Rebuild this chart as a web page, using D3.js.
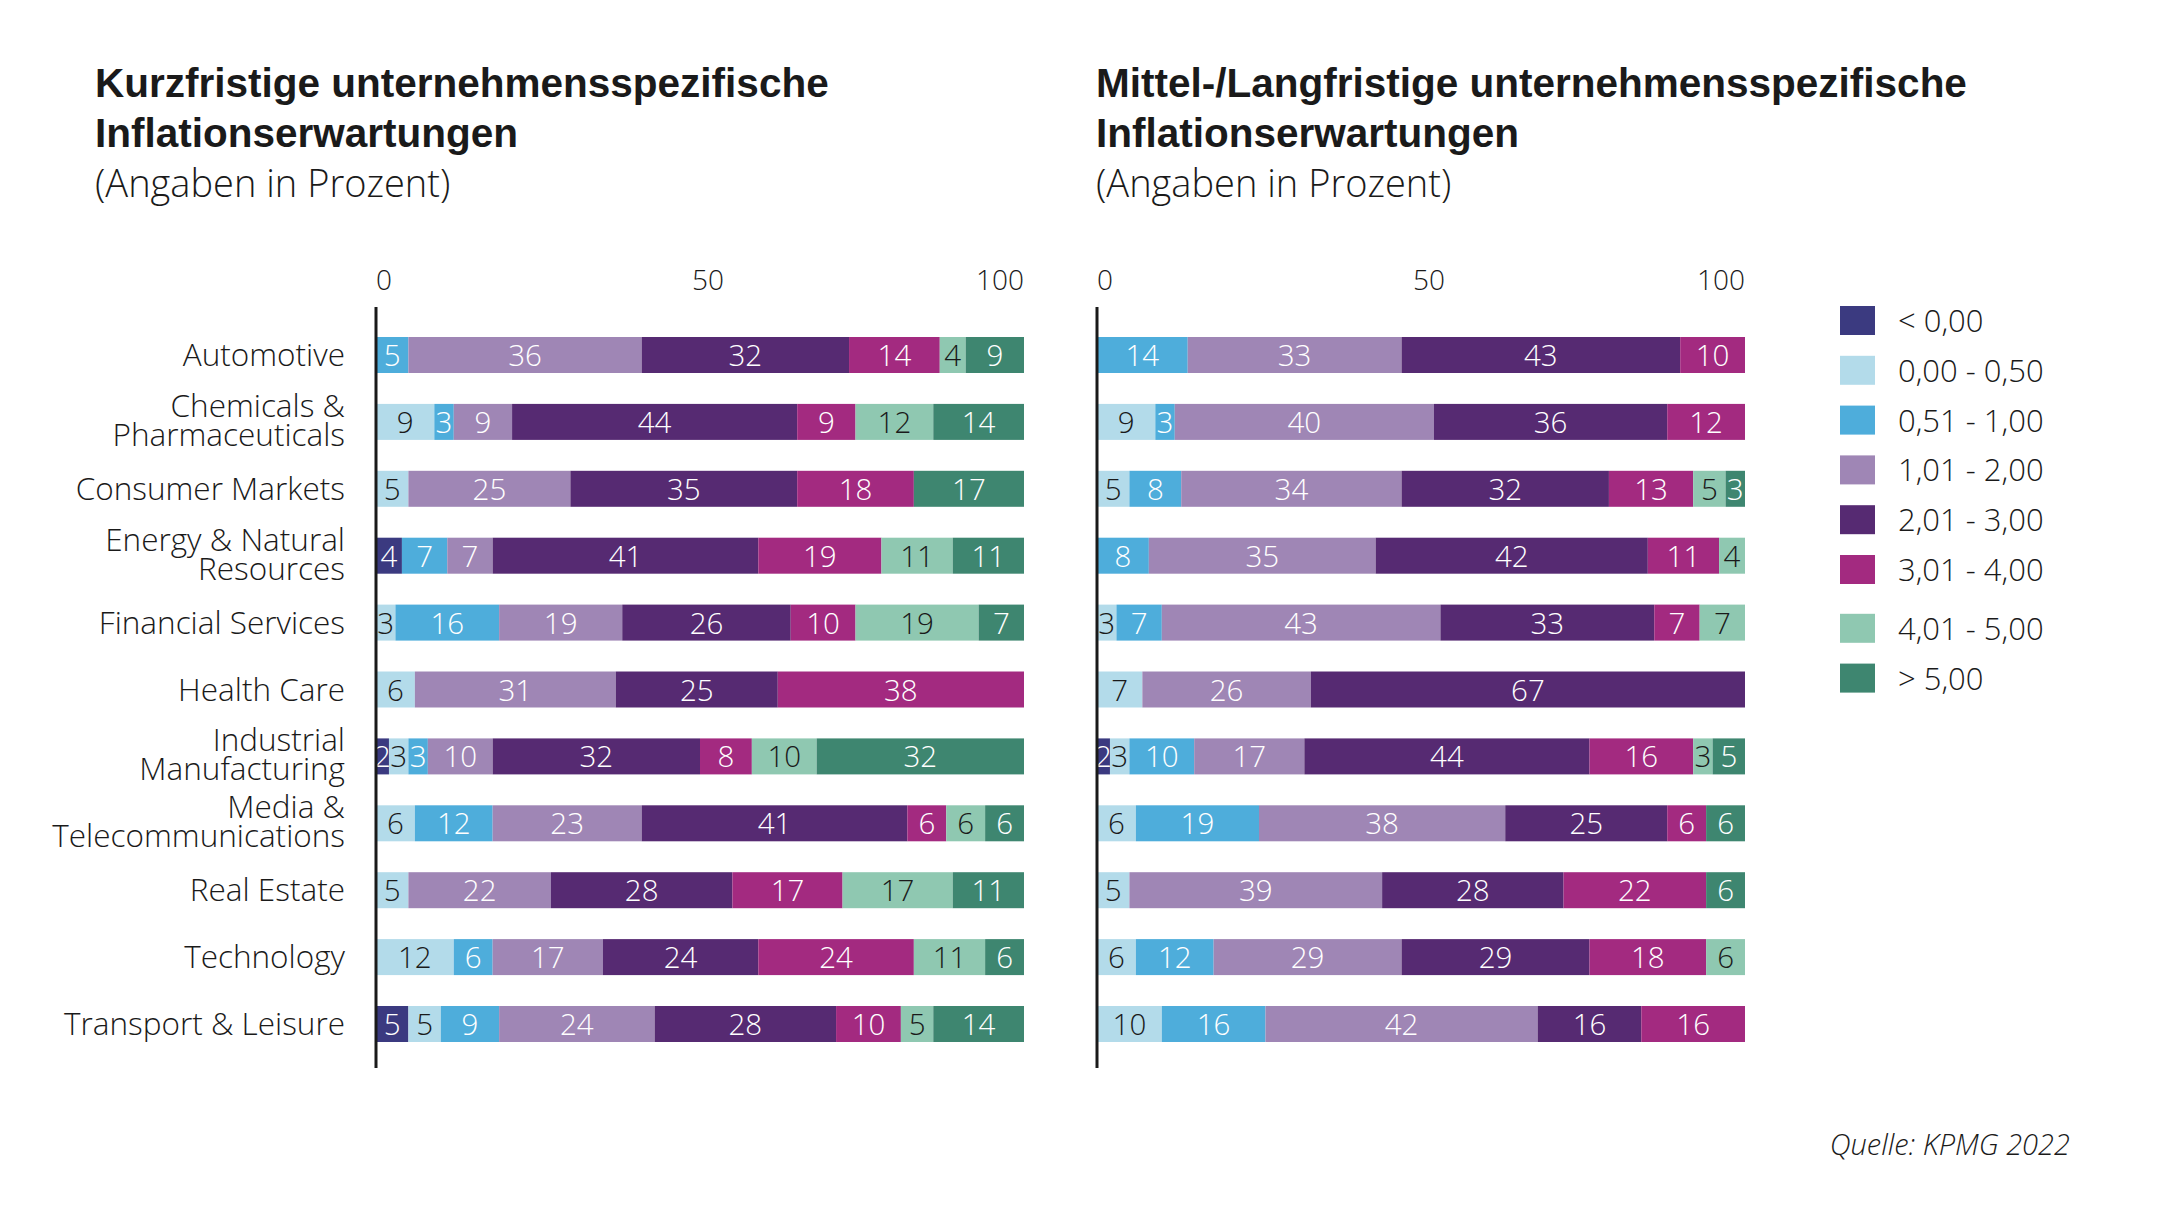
<!DOCTYPE html>
<html>
<head>
  <meta charset="utf-8"/>
  <title>Inflationserwartungen</title>
  <style type="text/css">
    body {
      margin: 0;
      padding: 0;
      background-color: white;
    }
    text {
      font-family: "Open Sans", "Liberation Sans", sans-serif;
      font-weight: 300;
      fill: #1a1a1a;
    }
    .title {
      font-family: "Liberation Sans", Arial, sans-serif;
      font-weight: 700;
      font-size: 40.5px;
    }
    .subtitle { font-size: 38px; }
    .tick { font-size: 28px; }
    .cat { font-size: 31.5px; }
    .val { font-size: 29.5px; }
    .legend { font-size: 31px; }
    .source { font-size: 29px; font-style: italic; }
  </style>
  <script src="https://cdn.jsdelivr.net/npm/d3@7"></script>
</head>
<body>
<script type="text/javascript">

  var w = 2160, h = 1225;

  // DATA
  var categories = ["Automotive", "Chemicals &|Pharmaceuticals", "Consumer Markets",
                    "Energy & Natural|Resources", "Financial Services", "Health Care",
                    "Industrial|Manufacturing", "Media &|Telecommunications", "Real Estate",
                    "Technology", "Transport & Leisure"];

  var seriesNames = ["< 0,00", "0,00 - 0,50", "0,51 - 1,00", "1,01 - 2,00",
                     "2,01 - 3,00", "3,01 - 4,00", "4,01 - 5,00", "> 5,00"];

  // one row per category, one column per series
  var shortTerm = [
    [0, 0, 5, 36, 32, 14, 4, 9],
    [0, 9, 3, 9, 44, 9, 12, 14],
    [0, 5, 0, 25, 35, 18, 0, 17],
    [4, 0, 7, 7, 41, 19, 11, 11],
    [0, 3, 16, 19, 26, 10, 19, 7],
    [0, 6, 0, 31, 25, 38, 0, 0],
    [2, 3, 3, 10, 32, 8, 10, 32],
    [0, 6, 12, 23, 41, 6, 6, 6],
    [0, 5, 0, 22, 28, 17, 17, 11],
    [0, 12, 6, 17, 24, 24, 11, 6],
    [5, 5, 9, 24, 28, 10, 5, 14]
  ];

  var longTerm = [
    [0, 0, 14, 33, 43, 10, 0, 0],
    [0, 9, 3, 40, 36, 12, 0, 0],
    [0, 5, 8, 34, 32, 13, 5, 3],
    [0, 0, 8, 35, 42, 11, 4, 0],
    [0, 3, 7, 43, 33, 7, 7, 0],
    [0, 7, 0, 26, 67, 0, 0, 0],
    [2, 3, 10, 17, 44, 16, 3, 5],
    [0, 6, 19, 38, 25, 6, 0, 6],
    [0, 5, 0, 39, 28, 22, 0, 6],
    [0, 6, 12, 29, 29, 18, 6, 0],
    [0, 10, 16, 42, 16, 16, 0, 0]
  ];

  var tickValues = [0, 50, 100];

  // COLORS
  var colors = ["#3b3a80", "#b3dbea", "#4eaddb", "#9f86b5",
                "#562a72", "#a32a80", "#8fc8b1", "#3e8670"];
  var darkText = [false, true, false, false, false, false, true, false];
  var ink = "#1a1a1a";

  var svg = d3.select("body").append("svg")
              .attr("width", w)
              .attr("height", h);

  var panelWidth = 648;

  var y = d3.scaleBand()
            .domain(categories)
            .range([337, 1042])
            .paddingInner(0.462)
            .paddingOuter(0);

  var x = d3.scaleLinear().domain([0, 100]).range([0, panelWidth]);

  var stack = d3.stack().keys(d3.range(seriesNames.length));

  var panels = [
    { left: 376, titleX: 95, data: shortTerm,
      title: ["Kurzfristige unternehmensspezifische", "Inflationserwartungen"] },
    { left: 1097, titleX: 1096, data: longTerm,
      title: ["Mittel-/Langfristige unternehmensspezifische", "Inflationserwartungen"] }
  ];

  panels.forEach(function(p) {
    // titles
    p.title.forEach(function(line, i) {
      svg.append("text")
         .attr("class", "title")
         .attr("x", p.titleX)
         .attr("y", 97 + i * 50)
         .text(line);
    });
    svg.append("text")
       .attr("class", "subtitle")
       .attr("x", p.titleX)
       .attr("y", 197)
       .text("(Angaben in Prozent)");

    var g = svg.append("g").attr("transform", "translate(" + p.left + ",0)");

    // ticks on top
    g.selectAll("text.tick")
     .data(tickValues)
     .enter().append("text")
     .attr("class", "tick")
     .attr("x", function(d) { return x(d); })
     .attr("dx", function(d, i) {
        return i === 0 || i === tickValues.length - 1 ? 0 : 8;
     })
     .attr("y", 290)
     .attr("text-anchor", function(d, i) {
        return i === 0 ? "start" : (i === tickValues.length - 1 ? "end" : "middle");
     })
     .text(function(d) { return d; });

    var layers = stack(p.data);

    var layerG = g.selectAll("g.layer")
                  .data(layers)
                  .enter().append("g")
                  .attr("class", "layer");

    var segs = function(l) {
      return l.map(function(d, i) { return { s: d, cat: categories[i], key: l.key }; })
              .filter(function(d) { return d.s[1] - d.s[0] > 0; });
    };

    layerG.selectAll("rect")
          .data(segs)
          .enter().append("rect")
          .attr("x", function(d) { return x(d.s[0]); })
          .attr("y", function(d) { return y(d.cat); })
          .attr("width", function(d) { return x(d.s[1]) - x(d.s[0]); })
          .attr("height", y.bandwidth())
          .style("fill", function(d) { return colors[d.key]; });

    layerG.selectAll("text")
          .data(segs)
          .enter().append("text")
          .attr("class", "val")
          .attr("x", function(d) { return x((d.s[0] + d.s[1]) / 2); })
          .attr("y", function(d) { return y(d.cat) + y.bandwidth() / 2 + 11; })
          .attr("text-anchor", "middle")
          .style("fill", function(d) { return darkText[d.key] ? ink : "white"; })
          .text(function(d) { return d.s[1] - d.s[0]; });

    // axis line
    g.append("line")
     .attr("x1", x(0)).attr("x2", x(0))
     .attr("y1", y.range()[0] - 30)
     .attr("y2", y.range()[1] + 26)
     .style("stroke", ink)
     .style("stroke-width", 3);
  });

  // category labels (left only)
  var catLabels = svg.selectAll("text.cat")
                     .data(categories)
                     .enter().append("text")
                     .attr("class", "cat")
                     .attr("text-anchor", "end");

  catLabels.each(function(d) {
    var lines = d.split("|");
    var cy = y(d) + y.bandwidth() / 2;
    var t = d3.select(this);
    lines.forEach(function(line, i) {
      t.append("tspan")
       .attr("x", 345)
       .attr("y", lines.length === 1 ? cy + 11 : cy - 5 + i * 29)
       .text(line);
    });
  });

  // legend
  var legend = svg.selectAll("g.legend")
                  .data(seriesNames)
                  .enter().append("g")
                  .attr("class", "legend")
                  .attr("transform", function(d, i) {
                    return "translate(1840," + (306 + i * 49.8 + (i >= 6 ? 9 : 0)) + ")";
                  });

  legend.append("rect")
        .attr("width", 35)
        .attr("height", 29)
        .style("fill", function(d, i) { return colors[i]; });

  legend.append("text")
        .attr("class", "legend")
        .attr("x", 58)
        .attr("y", 26)
        .text(function(d) { return d; });

  svg.append("text")
     .attr("class", "source")
     .attr("x", 2070)
     .attr("y", 1155)
     .attr("text-anchor", "end")
     .text("Quelle: KPMG 2022");

</script>
</body>
</html>
